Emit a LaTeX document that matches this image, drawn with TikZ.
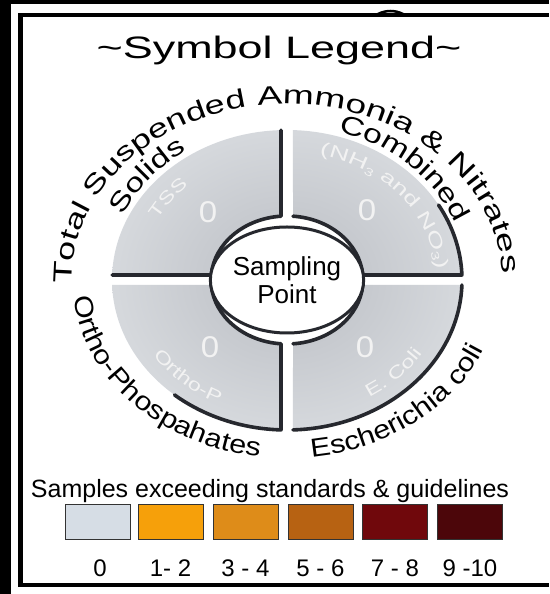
\documentclass[tikz,border=0pt]{standalone}
\usepackage{fontspec}
\setmainfont{Liberation Sans}
\newfontfamily\topwidefont[FakeStretch=1.43]{Liberation Sans}
\newfontfamily\tswidefont[FakeStretch=1.38]{Liberation Sans}
\newfontfamily\widefont[FakeStretch=1.3]{Liberation Sans}
\newfontfamily\botwidefont[FakeStretch=1.17]{Liberation Sans}
\newfontfamily\smallwidefont[FakeStretch=1.35]{Liberation Sans}
\newfontfamily\nhwidefont[FakeStretch=1.5]{Liberation Sans}
\newfontfamily\titlefont[FakeStretch=1.45]{Liberation Sans}
\usetikzlibrary{decorations.text,shapes.geometric}
\definecolor{quadin}{RGB}{186,189,195}
\definecolor{quadout}{RGB}{214,217,221}
\definecolor{shadowc}{RGB}{38,40,46}
\definecolor{emboss}{RGB}{242,242,242}
\definecolor{lv0}{RGB}{214,221,229}
\definecolor{lv1}{RGB}{246,160,10}
\definecolor{lv2}{RGB}{222,140,25}
\definecolor{lv3}{RGB}{183,98,18}
\definecolor{lv4}{RGB}{112,8,12}
\definecolor{lv5}{RGB}{76,6,10}
\newcommand\toparcfont{\topwidefont\fontsize{26}{26}\selectfont}
\newcommand\tsarcfont{\tswidefont\fontsize{26}{26}\selectfont}
\newcommand\arcfont{\widefont\fontsize{26}{26}\selectfont}
\newcommand\botarcfont{\botwidefont\fontsize{26}{26}\selectfont}
\newcommand\smallarcfont{\smallwidefont\fontsize{17.5}{17.5}\selectfont\color{emboss}}
\newcommand\nharcfont{\nhwidefont\fontsize{18}{18}\selectfont\color{emboss}}
\newcommand\subthree{\raisebox{-3pt}{\fontsize{11}{11}\selectfont 3}}
\begin{document}
\begin{tikzpicture}[x=1pt,y=1pt,
  frameline/.style={line width=4.5pt},
  shadowline/.style={draw=shadowc, line width=3.6pt, line cap=round, line join=round},
  legbox/.style={draw=black!80, line width=1pt, minimum width=65pt, minimum height=35pt, inner sep=0pt},
  numlabel/.style={font=\fontsize{24}{24}\selectfont, anchor=base, inner sep=0pt},
  zero/.style={font=\fontsize{30}{30}\selectfont, text=emboss, xscale=1.1},
]
\useasboundingbox (0,0) rectangle (549,594);
\fill[white] (-20,-20) rectangle (569,614);

\node[font=\titlefont\fontsize{31}{31}\selectfont, anchor=base, inner sep=0pt] (title) at (279,535) {\textasciitilde Symbol Legend\textasciitilde};

\coordinate (C) at (287,314);
\begin{scope}[shift={(C)}]
  % quadrants, shaded as one disc
  \begin{scope}
    \clip (91.96:175 and 150) arc[start angle=91.96, end angle=178.09, x radius=175, y radius=150] -- (175.52:76 and 64) arc[start angle=175.52, end angle=94.53, x radius=76, y radius=64] -- cycle
      (88.04:175 and 150) arc[start angle=88.04, end angle=1.91, x radius=175, y radius=150] -- (4.48:76 and 64) arc[start angle=4.48, end angle=85.47, x radius=76, y radius=64] -- cycle
      (181.91:175 and 150) arc[start angle=181.91, end angle=268.04, x radius=175, y radius=150] -- (265.47:76 and 64) arc[start angle=265.47, end angle=184.48, x radius=76, y radius=64] -- cycle
      (271.96:175 and 150) arc[start angle=271.96, end angle=358.09, x radius=175, y radius=150] -- (355.52:76 and 64) arc[start angle=355.52, end angle=274.53, x radius=76, y radius=64] -- cycle;
    \shade[inner color=quadin, outer color=quadout] (0,0) ellipse[x radius=178, y radius=153];
  \end{scope}
  % shadow edges
  \draw[shadowline] (178.09:175 and 150) -- (175.52:76 and 64) arc[start angle=175.52, end angle=94.53, x radius=76, y radius=64] -- (91.96:175 and 150);
  \draw[shadowline] (30:175 and 150) arc[start angle=30, end angle=1.91, x radius=175, y radius=150] -- (4.48:76 and 64) arc[start angle=4.48, end angle=85.47, x radius=76, y radius=64];
  \draw[shadowline] (184.48:76 and 64) arc[start angle=184.48, end angle=265.47, x radius=76, y radius=64] -- (268.04:175 and 150) arc[start angle=268.04, end angle=230, x radius=175, y radius=150];
  \draw[shadowline] (274.53:76 and 64) arc[start angle=274.53, end angle=355.52, x radius=76, y radius=64];
  \draw[shadowline] (271.96:175 and 150) arc[start angle=271.96, end angle=358.09, x radius=175, y radius=150];

  % outer curved labels
  \path[decorate, decoration={text along path, text align=center, text={|\tsarcfont|Total Suspended}}]
    (192:215 and 176) arc[start angle=192, end angle=92, x radius=215, y radius=176];
  \path[decorate, decoration={text along path, text align=center, text={|\toparcfont|Ammonia {\&} Nitrates}}]
    (108.8:215 and 176) arc[start angle=108.8, end angle=-11.2, x radius=215, y radius=176];
  \path[decorate, decoration={text along path, text align=center, text={|\arcfont|Solids}}]
    (165:181 and 155) arc[start angle=165, end angle=115, x radius=181, y radius=155];
  \path[decorate, decoration={text along path, text align=center, text={|\arcfont|Combined}}]
    (80:181 and 155) arc[start angle=80, end angle=14, x radius=181, y radius=155];
  \path[decorate, decoration={text along path, text align=center, text={|\botarcfont|Ortho-Phospahates}}]
    (178:214 and 178) arc[start angle=178, end angle=269, x radius=214, y radius=178];
  \path[decorate, decoration={text along path, text align=center, text={|\botarcfont|Escherichia coli}}]
    (263:214 and 178) arc[start angle=263, end angle=353, x radius=214, y radius=178];

  % inner embossed labels
  \path[decorate, decoration={text along path, text align=center, text={|\smallarcfont|TSS}}]
    (165:148 and 126) arc[start angle=165, end angle=119, x radius=148, y radius=126];
  \path[decorate, decoration={text along path, text align=center, text={|\nharcfont|(NH{\subthree} and NO{\subthree})}}]
    (90:150 and 128) arc[start angle=90, end angle=-10, x radius=150, y radius=128];
  \path[decorate, decoration={text along path, text align=center, text={|\smallarcfont|Ortho-P}}]
    (195:160 and 137) arc[start angle=195, end angle=261, x radius=160, y radius=137];
  \path[decorate, decoration={text along path, text align=center, text={|\smallarcfont|E. Coli}}]
    (288:160 and 137) arc[start angle=288, end angle=342, x radius=160, y radius=137];
\end{scope}

\node[ellipse, draw=shadowc, line width=3pt, fill=white, minimum width=124pt, minimum height=106pt, inner sep=0pt, align=center, font=\fontsize{26}{28}\selectfont] (sp) at (C) {Sampling\\Point};

\node[zero] (z1) at (208,382) {0};
\node[zero] (z2) at (367,384) {0};
\node[zero] (z3) at (210,247) {0};
\node[zero] (z4) at (365,247) {0};

\node[font=\fontsize{25}{25}\selectfont, anchor=base, inner sep=0pt] (caption) at (270,96) {Samples exceeding standards \& guidelines};

\node[legbox, fill=lv0] (b0) at (97.5,71.5) {};
\node[legbox, fill=lv1] (b1) at (170.5,71.5) {};
\node[legbox, fill=lv2] (b2) at (245.5,71.5) {};
\node[legbox, fill=lv3] (b3) at (320.5,71.5) {};
\node[legbox, fill=lv4] (b4) at (395,71.5) {};
\node[legbox, fill=lv5] (b5) at (470,71.5) {};

\node[numlabel] (l0) at (100,17) {0};
\node[numlabel] (l1) at (170.5,17) {1- 2};
\node[numlabel] (l2) at (245.5,17) {3 - 4};
\node[numlabel] (l3) at (320.5,17) {5 - 6};
\node[numlabel] (l4) at (395,17) {7 - 8};
\node[numlabel] (l5) at (470,17) {9 -10};

% frame, drawn last
\fill[black] (0,0) rectangle (11,594);
\fill[black] (0,590) rectangle (549,594);
\draw[frameline] (20.5,6.75) -- (20.5,581.25);
\draw[frameline] (18.25,579) -- (549,579);
\draw[frameline] (18.25,9) -- (549,9);
\draw[line width=2.5pt, line cap=round] (378,580) .. controls (386,584) and (395,584) .. (403,580);
\end{tikzpicture}
\end{document}
